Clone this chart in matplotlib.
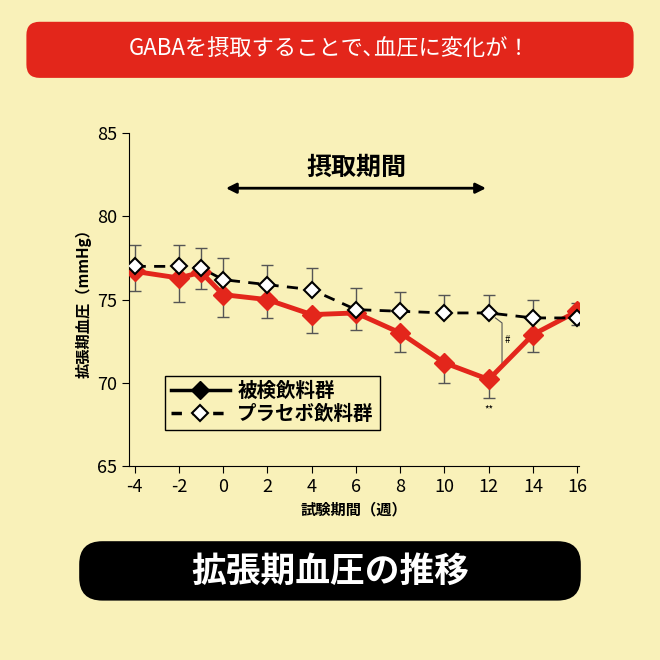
import matplotlib.pyplot as plt
from matplotlib.patches import FancyBboxPatch
from matplotlib.lines import Line2D

plt.rcParams['font.family'] = ['Noto Sans CJK JP']
plt.rcParams['axes.unicode_minus'] = False

weeks = [-4, -2, -1, 0, 2, 4, 6, 8, 10, 12, 14, 16]
test_bp = [76.7, 76.3, 76.65, 75.3, 75.0, 74.1, 74.2, 73.0, 71.2, 70.2, 72.9, 74.3]
test_err = [1.2, 1.45, 1.0, 1.35, 1.1, 1.1, 1.0, 1.15, 1.2, 1.1, 1.05, 0.8]
placebo_bp = [77.0, 77.0, 76.9, 76.2, 75.9, 75.6, 74.4, 74.3, 74.2, 74.2, 73.9, 73.9]
placebo_err = [1.3, 1.3, 1.2, 1.3, 1.2, 1.3, 1.3, 1.15, 1.1, 1.1, 1.1, 0.9]
xticks = [-4, -2, 0, 2, 4, 6, 8, 10, 12, 14, 16]
yticks = [65, 70, 75, 80, 85]

bg = '#f9f1b9'
red = '#e3261b'
fig = plt.figure(figsize=(6.6, 6.6), dpi=100, facecolor=bg)

# banners
fig.patches.append(FancyBboxPatch((0.04, 0.882), 0.92, 0.085, boxstyle='round,pad=0,rounding_size=0.02',
                                  transform=fig.transFigure, fc=red, ec='none'))
fig.text(0.5, 0.925, 'GABAを摂取することで､血圧に変化が！', color='white', fontsize=16,
         ha='center', va='center')
fig.patches.append(FancyBboxPatch((0.12, 0.09), 0.76, 0.09, boxstyle='round,pad=0,rounding_size=0.035',
                                  transform=fig.transFigure, fc='black', ec='none'))
fig.text(0.5, 0.135, '拡張期血圧の推移', color='white', fontsize=25, ha='center', va='center', fontweight='bold')

ax = fig.add_axes([0.195, 0.294, 0.683, 0.504])
ax.set_facecolor(bg)
ax.errorbar(weeks, placebo_bp, yerr=[[0] * 12, placebo_err], fmt='none', ecolor='#555', elinewidth=1, capsize=4, zorder=1)
ax.errorbar(weeks, test_bp, yerr=[test_err, [0] * 12], fmt='none', ecolor='#555', elinewidth=1, capsize=4, zorder=1)
ax.plot(weeks, test_bp, color=red, lw=3.5, marker='D', ms=10, mfc=red, mec=red, zorder=3)
ax.plot(weeks, placebo_bp, ls=(0, (4, 3)), color='black', lw=2, marker='D', ms=8,
        mfc='white', mec='black', mew=1.5, zorder=4)

ax.set_xlim(-4.27, 16.1)
ax.set_ylim(65, 85)
ax.set_xticks(xticks)
ax.set_yticks(yticks)
ax.tick_params(labelsize=13, direction='out', length=5)
for s in ['top', 'right']:
    ax.spines[s].set_visible(False)
ax.set_xlabel('試験期間（週）', fontsize=11, fontweight='bold')
ax.set_ylabel('拡張期血圧（mmHg）', fontsize=11, fontweight='bold')

ax.annotate('', xy=(0, 81.7), xytext=(12, 81.7),
            arrowprops=dict(arrowstyle='<|-|>', color='black', lw=2, mutation_scale=15))
ax.text(6, 82.9, '摂取期間', fontsize=18, ha='center', va='center', fontweight='bold')
ax.text(12, 68.4, '**', fontsize=7, ha='center', va='center')
ax.plot([12.3, 12.6, 12.6, 12.3], [73.9, 73.6, 71.0, 70.7], color='#555', lw=0.8)
ax.text(12.85, 72.6, '#', fontsize=7, ha='center', va='center')

hs = [Line2D([], [], color='black', lw=2.5, marker='D', ms=9, mfc='black'),
      Line2D([], [], color='black', lw=2.5, ls=(0, (3, 3)), marker='D', ms=8, mfc='white', mew=1.5)]
leg = ax.legend(hs, ['被検飲料群', 'プラセボ飲料群'], loc='lower left', bbox_to_anchor=(0.06, 0.08),
                prop={'size': 14, 'weight': 'bold'}, frameon=True, fancybox=False, handlelength=3,
                borderpad=0.3, labelspacing=0.2, handletextpad=0.4)
leg.get_frame().set_edgecolor('black')
leg.get_frame().set_facecolor(bg)
leg.get_frame().set_alpha(1)

fig.savefig('out.png', dpi=100, facecolor=bg)
